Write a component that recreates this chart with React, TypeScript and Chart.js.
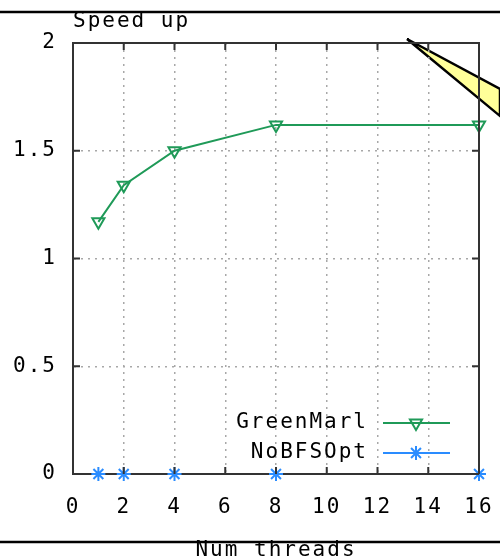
import React, { useEffect, useRef } from "react";
import { Chart, registerables } from "chart.js";

Chart.register(...registerables);

const threads = [1, 2, 4, 8, 16];
const greenMarl = [1.17, 1.34, 1.5, 1.62, 1.62];
const noBFSOpt = [0, 0, 0, 0, 0];
const seriesNames = ["GreenMarl", "NoBFSOpt"];
const xTitle = "Num threads";
const yTitle = "Speed up";

const GREEN = "#1f9a58";
const BLUE = "#2a8cff";
const AXIS = "#333333";
const FONT = "'DejaVu Sans Mono', 'Liberation Mono', monospace";
const LEGEND_ROWS = [423, 453];

const decorPlugin = {
  id: "decor",
  beforeDraw(chart: any) {
    const ctx = chart.ctx as CanvasRenderingContext2D;
    ctx.save();
    ctx.beginPath();
    ctx.moveTo(407, 39);
    ctx.lineTo(500, 89);
    ctx.lineTo(500, 116);
    ctx.closePath();
    ctx.fillStyle = "#ffff99";
    ctx.fill();
    ctx.lineWidth = 2.5;
    ctx.strokeStyle = "#000";
    ctx.stroke();
    ctx.restore();
    (ctx as any).letterSpacing = "2px";
  },
  afterDraw(chart: any) {
    const ctx = chart.ctx as CanvasRenderingContext2D;
    const { left, right, top, bottom } = chart.chartArea;
    const xs = chart.scales.x;
    const ys = chart.scales.y;
    ctx.save();
    (ctx as any).letterSpacing = "2px";
    ctx.strokeStyle = AXIS;
    ctx.lineWidth = 2;
    ctx.beginPath();
    ctx.moveTo(left, top);
    ctx.lineTo(right, top);
    ctx.lineTo(right, bottom);
    ctx.stroke();
    ctx.beginPath();
    xs.ticks.forEach((t: any) => {
      const px = xs.getPixelForValue(t.value);
      ctx.moveTo(px, bottom);
      ctx.lineTo(px, bottom - 7);
      ctx.moveTo(px, top);
      ctx.lineTo(px, top + 7);
    });
    ys.ticks.forEach((t: any) => {
      const py = ys.getPixelForValue(t.value);
      ctx.moveTo(left, py);
      ctx.lineTo(left + 7, py);
      ctx.moveTo(right, py);
      ctx.lineTo(right - 7, py);
    });
    ctx.stroke();

    // legend
    chart.data.datasets.forEach((ds: any, i: number) => {
      const y = LEGEND_ROWS[i];
      ctx.save();
      (ctx as any).letterSpacing = "2px";
      ctx.font = `21px ${FONT}`;
      ctx.fillStyle = "#000";
      ctx.textAlign = "right";
      ctx.textBaseline = "middle";
      ctx.fillText(ds.label, 368, y);
      ctx.strokeStyle = ds.borderColor;
      ctx.lineWidth = ds.borderWidth;
      ctx.beginPath();
      ctx.moveTo(383, y);
      ctx.lineTo(450, y);
      ctx.stroke();
      ctx.restore();
      const el = chart.getDatasetMeta(i).data[0];
      if (el) {
        const ox = el.x;
        const oy = el.y;
        el.x = 416;
        el.y = y;
        ctx.save();
        el.draw(ctx);
        ctx.restore();
        el.x = ox;
        el.y = oy;
      }
    });

    // titles
    ctx.font = `21px ${FONT}`;
    ctx.fillStyle = "#000";
    ctx.textAlign = "left";
    ctx.textBaseline = "middle";
    ctx.fillText(yTitle, left, 22);
    ctx.textAlign = "center";
    ctx.fillText(xTitle, (left + right) / 2, 551);

    // frame lines
    ctx.strokeStyle = "#000";
    ctx.lineWidth = 2.5;
    ctx.beginPath();
    ctx.moveTo(0, 12);
    ctx.lineTo(500, 12);
    ctx.moveTo(0, 542);
    ctx.lineTo(500, 542);
    ctx.stroke();
    ctx.restore();
  },
};

export default function App() {
  const ref = useRef<HTMLCanvasElement>(null);
  useEffect(() => {
    if (!ref.current) return;
    const chart = new Chart(ref.current, {
      type: "line",
      data: {
        datasets: [
          {
            label: seriesNames[0],
            data: threads.map((t, i) => ({ x: t, y: greenMarl[i] })),
            borderColor: GREEN,
            backgroundColor: "rgba(255,255,255,0)",
            borderWidth: 2,
            pointStyle: "triangle",
            rotation: 180,
            pointRadius: 7,
            pointBorderWidth: 2,
            pointBackgroundColor: "rgba(255,255,255,0)",
            clip: false as any,
          },
          {
            label: seriesNames[1],
            data: threads.map((t, i) => ({ x: t, y: noBFSOpt[i] })),
            borderColor: BLUE,
            backgroundColor: BLUE,
            borderWidth: 2,
            showLine: false,
            pointStyle: "star",
            pointRadius: 7,
            pointBorderWidth: 2,
            clip: false as any,
          },
        ],
      },
      options: {
        responsive: false,
        animation: false,
        layout: { padding: { top: 43, right: 21, left: 0, bottom: 0 } },
        plugins: {
          legend: { display: false },
          tooltip: { enabled: false },
          title: { display: false },
        },
        scales: {
          x: {
            type: "linear",
            min: 0,
            max: 16,
            ticks: {
              stepSize: 2,
              color: "#000",
              font: { family: FONT, size: 21 },
              padding: 21,
              maxRotation: 0,
              callback: (v: any) => String(v),
            },
            grid: {
              color: "#a8a8a8",
              lineWidth: 1.5,
              drawTicks: false,
            },
            border: { display: true, color: AXIS, width: 2, dash: [2, 5] },
            afterFit: (s: any) => {
              s.height = 85;
              s.paddingLeft = 0;
              s.paddingRight = 0;
            },
          },
          y: {
            min: 0,
            max: 2,
            ticks: {
              stepSize: 0.5,
              color: "#000",
              font: { family: FONT, size: 21 },
              padding: 16,
              callback: (v: any) => String(v),
            },
            grid: {
              color: "#a8a8a8",
              lineWidth: 1.5,
              drawTicks: false,
            },
            border: { display: true, color: AXIS, width: 2, dash: [2, 5] },
            afterFit: (s: any) => {
              s.width = 73;
              s.paddingTop = 0;
              s.paddingBottom = 0;
            },
          },
        },
      },
      plugins: [decorPlugin],
    });
    return () => chart.destroy();
  }, []);
  return (
    <div style={{ position: "fixed", left: 0, top: 0, width: 500, height: 559, background: "#fff" }}>
      <canvas ref={ref} width={500} height={559} style={{ display: "block" }} />
    </div>
  );
}
